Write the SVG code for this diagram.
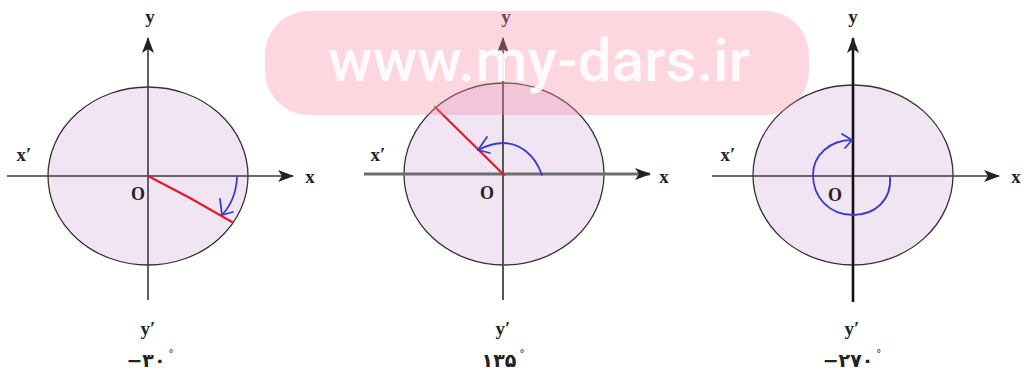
<svg xmlns="http://www.w3.org/2000/svg" width="1024" height="379" viewBox="0 0 1024 379">
<style>
.disk{fill:#f1e4f3;stroke:#333;stroke-width:1.3}
.ax{stroke:#3a3a3a;stroke-width:1.6;fill:none}
.lbl{font-family:"Liberation Serif","DejaVu Serif",serif;font-weight:bold;font-size:19px;fill:#222;text-anchor:middle}
.o{font-family:"Liberation Serif","DejaVu Serif",serif;font-weight:bold;font-size:18px;fill:#222;text-anchor:middle}
.ang{font-family:"DejaVu Sans","Noto Sans",sans-serif;font-weight:bold;font-size:19px;fill:#222;text-anchor:middle}
.deg{font-size:10px;font-weight:normal}
.red{stroke:#e01c2a;stroke-width:2.2;fill:none;stroke-linecap:round}
.blue{stroke:#3b3bd0;stroke-width:1.8;fill:none;stroke-linecap:round;stroke-linejoin:round}
</style>
<defs>
<marker id="ah" markerUnits="userSpaceOnUse" markerWidth="16" markerHeight="12" refX="15" refY="6" orient="auto">
<path d="M0,0 L16,6 L0,12 L4,6 z" fill="#222"/>
</marker>
</defs>
<rect width="1024" height="379" fill="#fff"/>

<g id="panel1">
<ellipse class="disk" cx="148" cy="176" rx="100" ry="89"/>
<g id="connectors1">
<line class="ax" x1="7" y1="176" x2="293" y2="176" marker-end="url(#ah)"/>
<line class="ax" x1="148" y1="300" x2="148" y2="38" marker-end="url(#ah)"/>
<path class="red" d="M148,176 L190,198 L232,222"/>
<path class="blue" d="M237,177 Q236,200 222,215"/>
<path class="blue" d="M220,199 L222,215 L233,212"/>
</g>
<text class="lbl" x="150" y="23">y</text>
<text class="lbl" x="24" y="161">x′</text>
<text class="lbl" x="310" y="183">x</text>
<text class="o" x="138" y="200">O</text>
<text class="lbl" x="148" y="335">y′</text>
<text class="ang" x="150" y="367">−۳۰<tspan class="deg" dx="3" dy="-10">°</tspan></text>
</g>

<g id="panel2">
<ellipse class="disk" cx="504" cy="174" rx="100" ry="91"/>
<g id="connectors2">
<line class="ax" x1="364" y1="174" x2="650" y2="174" marker-end="url(#ah)" style="stroke:#6e6e6e;stroke-width:3"/>
<line class="ax" x1="503" y1="300" x2="503" y2="38" style="stroke:#555;stroke-width:2" marker-end="url(#ah)"/>
<path class="red" d="M504,175 L435,107"/>
<path class="blue" d="M542,175 C535,155 520,143 503,143 C492,143 484,147 478,150"/>
<path class="blue" d="M487,137 L478,150 L490,153"/>
</g>
<text class="lbl" x="506" y="23">y</text>
<text class="lbl" x="378" y="161">x′</text>
<text class="lbl" x="664" y="183">x</text>
<text class="o" x="487" y="199">O</text>
<text class="lbl" x="503" y="335">y′</text>
<text class="ang" x="503" y="367">۱۳۵<tspan class="deg" dx="3" dy="-10">°</tspan></text>
</g>

<g id="panel3">
<ellipse class="disk" cx="853" cy="175" rx="100" ry="90"/>
<g id="connectors3">
<line class="ax" x1="712" y1="176" x2="999" y2="176" marker-end="url(#ah)"/>
<line class="ax" x1="853" y1="302" x2="853" y2="38" style="stroke:#111;stroke-width:2.6" marker-end="url(#ah)"/>
<path class="blue" d="M890,176 C892,200 875,215 853,215 C830,215 813,198 813,175 C813,155 830,140 852,140"/>
<path class="blue" d="M842,134 L852,140 L845,148"/>
</g>
<text class="lbl" x="853" y="23">y</text>
<text class="lbl" x="728" y="161">x′</text>
<text class="lbl" x="1016" y="183">x</text>
<text class="o" x="835" y="201">O</text>
<text class="lbl" x="852" y="335">y′</text>
<text class="ang" x="852" y="367">−۲۷۰<tspan class="deg" dx="3" dy="-10">°</tspan></text>
</g>

<g id="watermark">
<rect x="265" y="11" width="544" height="104" rx="44" ry="44" fill="rgb(245,140,165)" fill-opacity="0.35"/>
<text x="539" y="81" font-family="Roboto,'Noto Sans',sans-serif" font-weight="500" font-size="60" fill="#fff" fill-opacity="0.9" text-anchor="middle" textLength="422" lengthAdjust="spacing">www.my-dars.ir</text>
</g>
</svg>
